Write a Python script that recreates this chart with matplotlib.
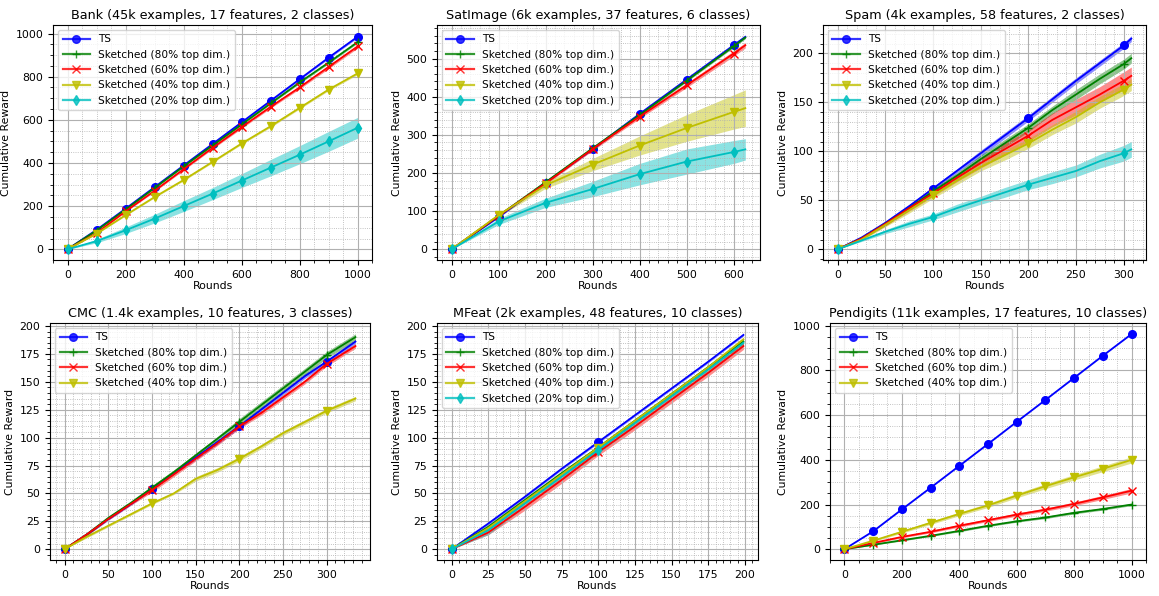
import numpy as np
import matplotlib
matplotlib.use("Agg")
import matplotlib.pyplot as plt

# ---------------- data (mean, band half-width)
labels = ["TS", "Sketched (80% top dim.)", "Sketched (60% top dim.)",
          "Sketched (40% top dim.)", "Sketched (20% top dim.)"]
colors = ["b", "g", "r", "y", "c"]
markers = ["o", "+", "x", "v", "d"]

# Bank
bank_x = [0, 100, 200, 300, 400, 500, 600, 700, 800, 900, 1000]
bank_ts = [0, 90, 188, 288, 388, 488, 588, 688, 788, 888, 985]
bank_80 = [0, 87, 184, 284, 384, 481, 578, 676, 773, 865, 960]
bank_60 = [0, 75, 176, 271, 371, 470, 566, 660, 750, 845, 940]
bank_40 = [0, 72, 158, 242, 321, 405, 490, 570, 655, 740, 815]
bank_20 = [0, 38, 88, 142, 200, 258, 318, 378, 438, 500, 563]
bank_err = [[0, 2, 3, 3, 3, 4, 4, 4, 4, 5, 5],
            [0, 2, 3, 3, 3, 4, 4, 4, 5, 5, 5],
            [0, 2, 3, 4, 5, 5, 6, 6, 7, 8, 8],
            [0, 2, 3, 3, 4, 4, 4, 5, 5, 5, 6],
            [0, 8, 15, 20, 25, 28, 32, 38, 42, 46, 48]]

# SatImage
sat_x = [0, 100, 200, 300, 400, 500, 600, 625]
sat_ts = [0, 85, 175, 263, 355, 445, 535, 557]
sat_80 = [0, 88, 176, 265, 352, 442, 532, 555]
sat_60 = [0, 88, 173, 263, 348, 430, 513, 535]
sat_40 = [0, 90, 168, 222, 272, 318, 360, 370]
sat_20 = [0, 73, 122, 158, 197, 230, 255, 262]
sat_err = [[0, 2, 2, 3, 3, 3, 3, 3],
           [0, 2, 2, 3, 3, 3, 3, 3],
           [0, 2, 3, 4, 5, 6, 7, 7],
           [0, 4, 8, 16, 25, 35, 45, 48],
           [0, 8, 12, 20, 28, 33, 30, 28]]

# Spam
spam_x = [0, 25, 50, 75, 100, 125, 150, 175, 200, 225, 250, 275, 300, 308]
spam_ts = [0, 12, 27, 44, 62, 80, 98, 116, 134, 153, 172, 190, 208, 215]
spam_80 = [0, 11, 26, 42, 59, 75, 92, 108, 124, 142, 158, 174, 189, 195]
spam_60 = [0, 11, 26, 42, 57, 73, 88, 102, 116, 132, 145, 158, 172, 177]
spam_40 = [0, 10, 25, 40, 55, 70, 84, 96, 108, 122, 135, 150, 163, 168]
spam_20 = [0, 9, 18, 26, 33, 42, 50, 58, 66, 73, 80, 90, 98, 102]
spam_err = [[0, 1, 2, 2, 2, 2, 3, 3, 3, 3, 3, 3, 3, 3],
            [0, 1, 2, 2, 3, 3, 4, 4, 4, 4, 5, 5, 5, 5],
            [0, 1, 2, 3, 3, 4, 5, 6, 6, 7, 8, 8, 9, 9],
            [0, 1, 2, 3, 3, 4, 4, 5, 5, 5, 6, 6, 6, 6],
            [0, 1, 2, 3, 3, 4, 4, 5, 5, 6, 6, 7, 8, 8]]

# CMC
cmc_x = [0, 25, 50, 75, 100, 125, 150, 175, 200, 225, 250, 275, 300, 333]
cmc_ts = [0, 13, 27, 40, 54, 68, 82, 96, 110, 125, 140, 155, 168, 186]
cmc_80 = [0, 13, 28, 41, 55, 69, 84, 99, 114, 129, 144, 159, 174, 190]
cmc_60 = [0, 13, 27, 40, 53, 67, 81, 95, 110, 122, 136, 150, 166, 182]
cmc_40 = [0, 11, 21, 31, 41, 50, 63, 71, 81, 92, 104, 114, 124, 135]
cmc_err = [[0, 1, 1, 1, 1, 1, 2, 2, 2, 2, 2, 2, 2, 2],
           [0, 1, 1, 1, 2, 2, 2, 2, 3, 3, 3, 3, 3, 3],
           [0, 1, 1, 1, 2, 2, 2, 2, 2, 2, 2, 2, 2, 2],
           [0, 1, 1, 1, 1, 1, 2, 2, 2, 2, 2, 2, 2, 2]]

# MFeat
mf_x = [0, 25, 50, 75, 100, 125, 150, 175, 199]
mf_ts = [0, 23, 47, 72, 96, 120, 144, 168, 192]
mf_80 = [0, 20, 44, 68, 91, 115, 139, 163, 186]
mf_60 = [0, 15, 38, 62, 87, 110, 134, 158, 182]
mf_40 = [0, 19, 43, 67, 91, 115, 139, 163, 188]
mf_20 = [0, 17, 41, 65, 89, 113, 137, 161, 185]
mf_err = [[0, 1, 1, 1, 1, 1, 1, 1, 1],
          [0, 2, 2, 2, 2, 2, 2, 2, 2],
          [0, 2, 3, 3, 3, 3, 3, 3, 3],
          [0, 2, 2, 2, 2, 2, 2, 2, 2],
          [0, 4, 3, 3, 3, 3, 3, 3, 3]]

# Pendigits
pen_x = [0, 100, 200, 300, 400, 500, 600, 700, 800, 900, 1000]
pen_ts = [0, 80, 178, 275, 373, 471, 570, 668, 767, 866, 963]
pen_80 = [0, 20, 40, 60, 82, 105, 125, 142, 163, 180, 200]
pen_60 = [0, 28, 55, 78, 105, 130, 155, 177, 203, 232, 262]
pen_40 = [0, 38, 78, 118, 158, 196, 240, 282, 322, 360, 400]
pen_err = [[0, 1, 1, 1, 1, 1, 1, 1, 1, 1, 1],
           [0, 2, 3, 3, 4, 4, 4, 5, 5, 5, 5],
           [0, 3, 4, 5, 6, 6, 7, 7, 8, 9, 10],
           [0, 4, 6, 7, 8, 9, 10, 11, 12, 13, 14]]

titles = ["Bank (45k examples, 17 features, 2 classes)",
          "SatImage (6k examples, 37 features, 6 classes)",
          "Spam (4k examples, 58 features, 2 classes)",
          "CMC (1.4k examples, 10 features, 3 classes)",
          "MFeat (2k examples, 48 features, 10 classes)",
          "Pendigits (11k examples, 17 features, 10 classes)"]

panels = [
    (bank_x, [bank_ts, bank_80, bank_60, bank_40, bank_20], bank_err, 100),
    (sat_x, [sat_ts, sat_80, sat_60, sat_40, sat_20], sat_err, 100),
    (spam_x, [spam_ts, spam_80, spam_60, spam_40, spam_20], spam_err, 100),
    (cmc_x, [cmc_ts, cmc_80, cmc_60, cmc_40], cmc_err, 100),
    (mf_x, [mf_ts, mf_80, mf_60, mf_40, mf_20], mf_err, 100),
    (pen_x, [pen_ts, pen_80, pen_60, pen_40], pen_err, 100),
]

# axes boxes in pixels (left, top, right, bottom)
W, H = 1159, 596
boxes = [(53, 25, 372, 260), (437, 25, 760, 260), (823, 25, 1146, 260),
         (50, 323, 370, 560), (437, 323, 758, 560), (830, 323, 1146, 560)]

fig = plt.figure(figsize=(W / 100, H / 100), dpi=100)

for k in range(6):
    l, t, r, b = boxes[k]
    ax = fig.add_axes([l / W, 1 - b / H, (r - l) / W, (b - t) / H])
    x, series, err, step = panels[k]
    x = np.array(x)
    marks = [i for i in range(len(x)) if x[i] % step == 0]
    for j, y in enumerate(series):
        y = np.array(y, dtype=float)
        e = np.array(err[j], dtype=float)
        ax.fill_between(x, y - e, y + e, color=colors[j], alpha=0.45, lw=0)
        ax.plot(x, y, color=colors[j], marker=markers[j], markevery=marks,
                markersize=5.5, lw=1.3, label=labels[j])
    ax.minorticks_on()
    ax.grid(which="major", color="#b0b0b0", lw=0.8)
    ax.grid(which="minor", color="#b0b0b0", lw=0.6, linestyle=":")
    ax.tick_params(labelsize=7.8)
    ax.set_title(titles[k], fontsize=9.2, pad=4)
    ax.set_xlabel("Rounds", fontsize=7.8, labelpad=1)
    ax.set_ylabel("Cumulative Reward", fontsize=7.8, labelpad=3)
    leg = ax.legend(loc="upper left", fontsize=7.6, handlelength=2.6,
                    borderpad=0.4, labelspacing=0.5)
    for h in leg.get_lines():
        h.set_linewidth(1.6)
        h.set_alpha(0.8)

fig.savefig("out.png", dpi=100)
